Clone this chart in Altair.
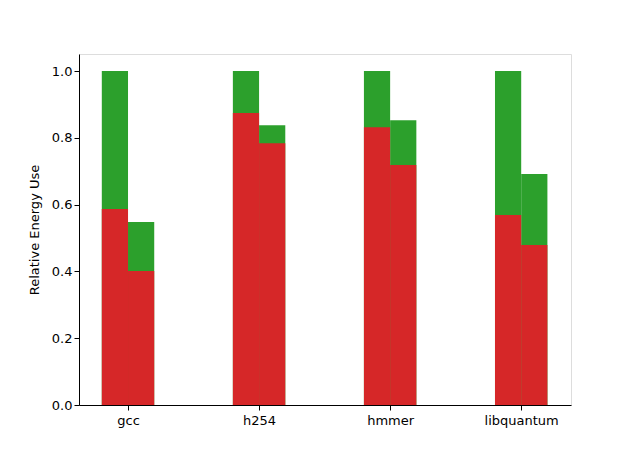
import altair as alt
import pandas as pd

benchmarks = ["gcc", "h254", "hmmer", "libquantum"]
# two bars per benchmark: red part and full (red + green) height
red_a = [0.587, 0.874, 0.832, 0.569]
total_a = [1.0, 1.0, 1.0, 1.0]
red_b = [0.401, 0.784, 0.719, 0.479]
total_b = [0.548, 0.838, 0.853, 0.692]

rows = []
for i, name in enumerate(benchmarks):
    rows.append({"idx": i, "name": name, "side": 0, "red": red_a[i], "total": total_a[i]})
    rows.append({"idx": i, "name": name, "side": 1, "red": red_b[i], "total": total_b[i]})
df = pd.DataFrame(rows)

bar_w = 0.2
base = alt.Chart(df).transform_calculate(
    x0=f"datum.idx + (datum.side - 1) * {bar_w}",
    x1=f"datum.idx + datum.side * {bar_w}",
)

xs = alt.X(
    "x0:Q",
    scale=alt.Scale(domain=[-0.374, 3.38], nice=False, zero=False),
    axis=alt.Axis(
        values=[0, 1, 2, 3],
        labelExpr="['gcc','h254','hmmer','libquantum'][datum.value]",
        title=None, grid=False, tickColor="black", domainColor="black",
        labelFontSize=13, labelColor="black", tickSize=5, labelPadding=4,
        labelFont="DejaVu Sans",
    ),
)
ys = alt.Y(
    "total:Q",
    scale=alt.Scale(domain=[0, 1.051], nice=False),
    axis=alt.Axis(
        values=[0, 0.2, 0.4, 0.6, 0.8, 1.0], format=".1f",
        title="Relative Energy Use", titleFontWeight="normal", titleFontSize=13,
        titleFont="DejaVu Sans", titlePadding=10, titleColor="black",
        grid=False, tickColor="black", domainColor="black", labelFontSize=13,
        labelColor="black", tickSize=5, labelFont="DejaVu Sans",
    ),
)

green = base.mark_rect(color="#2ca02c").encode(x=xs, x2="x1:Q", y=ys, y2=alt.datum(0))
red = base.mark_rect(color="#d62728").encode(x="x0:Q", x2="x1:Q", y="red:Q", y2=alt.datum(0))

chart = (green + red).properties(
    width=492,
    height=351,
    autosize=alt.AutoSizeParams(type="none"),
    padding={"left": 71, "top": 46, "right": 47, "bottom": 42},
).configure_view(stroke="#000000", strokeOpacity=1, strokeWidth=1).configure(background="white")

chart.save("out.html", embed_options={"renderer": "svg", "actions": False})
